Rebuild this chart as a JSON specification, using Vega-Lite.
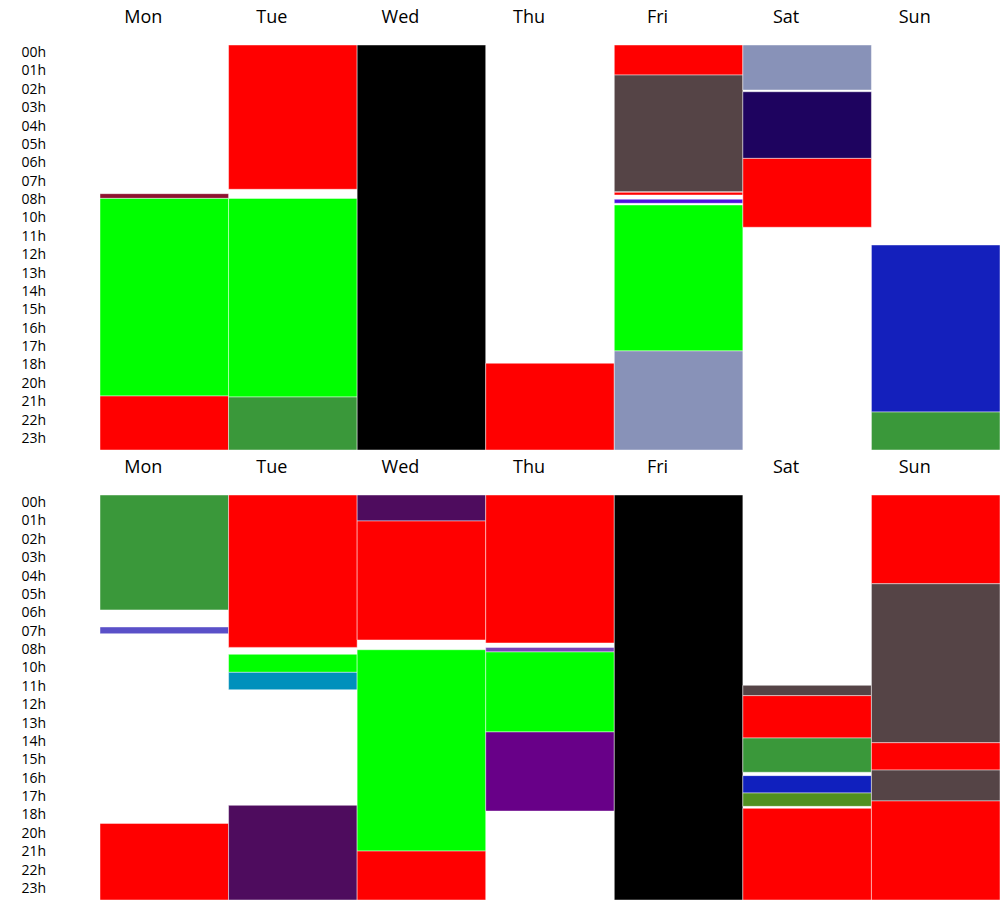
{
  "$schema": "https://vega.github.io/schema/vega-lite/v6.json",
  "background": "white",
  "padding": {"left": 21, "top": 8, "right": 0, "bottom": 0},
  "spacing": 7,
  "config": {
    "font": "Open Sans",
    "view": {"stroke": null},
    "axis": {"domain": false, "ticks": false, "tickSize": 0, "grid": false, "title": null, "labelColor": "#000000"}
  },
  "datasets": {
    "w1": [
      {"day": "Mon", "start": 8.81, "end": 9.09, "col": "#8e1230"},
      {"day": "Mon", "start": 9.09, "end": 20.8, "col": "#00ff00"},
      {"day": "Mon", "start": 20.8, "end": 24, "col": "#ff0000"},
      {"day": "Tue", "start": 0, "end": 8.55, "col": "#ff0000"},
      {"day": "Tue", "start": 9.09, "end": 20.86, "col": "#00ff00"},
      {"day": "Tue", "start": 20.86, "end": 24, "col": "#3a983a"},
      {"day": "Wed", "start": 0, "end": 24, "col": "#000000"},
      {"day": "Thu", "start": 18.86, "end": 24, "col": "#ff0000"},
      {"day": "Fri", "start": 0, "end": 1.78, "col": "#ff0000"},
      {"day": "Fri", "start": 1.78, "end": 8.69, "col": "#554446"},
      {"day": "Fri", "start": 8.73, "end": 8.89, "col": "#ff0000"},
      {"day": "Fri", "start": 9.14, "end": 9.38, "col": "#4c10e0"},
      {"day": "Fri", "start": 9.48, "end": 18.13, "col": "#00ff00"},
      {"day": "Fri", "start": 18.13, "end": 24, "col": "#8892b8"},
      {"day": "Sat", "start": 0, "end": 2.67, "col": "#8892b8"},
      {"day": "Sat", "start": 2.77, "end": 6.72, "col": "#1e035f"},
      {"day": "Sat", "start": 6.72, "end": 10.8, "col": "#ff0000"},
      {"day": "Sun", "start": 11.85, "end": 21.75, "col": "#1420bc"},
      {"day": "Sun", "start": 21.75, "end": 24, "col": "#3a983a"}
    ],
    "w2": [
      {"day": "Mon", "start": 0, "end": 6.81, "col": "#3a983a"},
      {"day": "Mon", "start": 7.82, "end": 8.22, "col": "#5a50c8"},
      {"day": "Mon", "start": 19.46, "end": 24, "col": "#ff0000"},
      {"day": "Tue", "start": 0, "end": 9.03, "col": "#ff0000"},
      {"day": "Tue", "start": 9.44, "end": 10.51, "col": "#00ff00"},
      {"day": "Tue", "start": 10.51, "end": 11.54, "col": "#0090bc"},
      {"day": "Tue", "start": 18.39, "end": 24, "col": "#4e0c5e"},
      {"day": "Wed", "start": 0, "end": 1.54, "col": "#4e0c5e"},
      {"day": "Wed", "start": 1.54, "end": 8.59, "col": "#ff0000"},
      {"day": "Wed", "start": 9.17, "end": 21.1, "col": "#00ff00"},
      {"day": "Wed", "start": 21.1, "end": 24, "col": "#ff0000"},
      {"day": "Thu", "start": 0, "end": 8.77, "col": "#ff0000"},
      {"day": "Thu", "start": 9.03, "end": 9.3, "col": "#7a44b8"},
      {"day": "Thu", "start": 9.3, "end": 14.04, "col": "#00ff00"},
      {"day": "Thu", "start": 14.04, "end": 18.73, "col": "#680088"},
      {"day": "Fri", "start": 0, "end": 24, "col": "#000000"},
      {"day": "Sat", "start": 11.28, "end": 11.89, "col": "#554446"},
      {"day": "Sat", "start": 11.89, "end": 14.4, "col": "#ff0000"},
      {"day": "Sat", "start": 14.4, "end": 16.43, "col": "#3a983a"},
      {"day": "Sat", "start": 16.63, "end": 17.66, "col": "#1020be"},
      {"day": "Sat", "start": 17.66, "end": 18.45, "col": "#509020"},
      {"day": "Sat", "start": 18.57, "end": 24, "col": "#ff0000"},
      {"day": "Sun", "start": 0, "end": 5.26, "col": "#ff0000"},
      {"day": "Sun", "start": 5.26, "end": 14.68, "col": "#554446"},
      {"day": "Sun", "start": 14.68, "end": 16.3, "col": "#ff0000"},
      {"day": "Sun", "start": 16.3, "end": 18.13, "col": "#554446"},
      {"day": "Sun", "start": 18.13, "end": 24, "col": "#ff0000"}
    ]
  },
  "vconcat": [
    {
      "width": 900,
      "height": 405,
      "data": {"name": "w1"},
      "mark": {"type": "bar", "stroke": "#ffffff", "strokeWidth": 1, "strokeOpacity": 0.45},
      "encoding": {
        "x": {"field": "day", "type": "nominal", "sort": ["Mon", "Tue", "Wed", "Thu", "Fri", "Sat", "Sun"],
          "scale": {"domain": ["Mon", "Tue", "Wed", "Thu", "Fri", "Sat", "Sun"], "paddingInner": 0, "paddingOuter": 0},
          "axis": {"orient": "top", "labelAngle": 0, "labelFontSize": 18, "labelBaseline": "alphabetic", "labelPadding": 23, "labelOffset": -21}},
        "y": {"field": "start", "type": "quantitative", "scale": {"domain": [0, 24], "reverse": true, "nice": false},
          "axis": {"values": [0.444, 1.533, 2.622, 3.712, 4.801, 5.89, 6.979, 8.068, 9.158, 10.247, 11.336, 12.425, 13.514, 14.604, 15.693, 16.782, 17.871, 18.96, 20.05, 21.139, 22.228, 23.317],
            "labelExpr": "['00h','01h','02h','03h','04h','05h','06h','07h','08h','10h','11h','12h','13h','14h','15h','16h','17h','18h','20h','21h','22h','23h'][round((datum.value - 0.444) / 1.0892)]",
            "labelAlign": "left", "labelBaseline": "middle", "labelPadding": 79, "labelFontSize": 14, "labelOverlap": false}},
        "y2": {"field": "end"},
        "color": {"field": "col", "type": "nominal", "scale": null}
      }
    },
    {
      "width": 900,
      "height": 405,
      "data": {"name": "w2"},
      "mark": {"type": "bar", "stroke": "#ffffff", "strokeWidth": 1, "strokeOpacity": 0.45},
      "encoding": {
        "x": {"field": "day", "type": "nominal", "sort": ["Mon", "Tue", "Wed", "Thu", "Fri", "Sat", "Sun"],
          "scale": {"domain": ["Mon", "Tue", "Wed", "Thu", "Fri", "Sat", "Sun"], "paddingInner": 0, "paddingOuter": 0},
          "axis": {"orient": "top", "labelAngle": 0, "labelFontSize": 18, "labelBaseline": "alphabetic", "labelPadding": 23, "labelOffset": -21}},
        "y": {"field": "start", "type": "quantitative", "scale": {"domain": [0, 24], "reverse": true, "nice": false},
          "axis": {"values": [0.444, 1.533, 2.622, 3.712, 4.801, 5.89, 6.979, 8.068, 9.158, 10.247, 11.336, 12.425, 13.514, 14.604, 15.693, 16.782, 17.871, 18.96, 20.05, 21.139, 22.228, 23.317],
            "labelExpr": "['00h','01h','02h','03h','04h','05h','06h','07h','08h','10h','11h','12h','13h','14h','15h','16h','17h','18h','20h','21h','22h','23h'][round((datum.value - 0.444) / 1.0892)]",
            "labelAlign": "left", "labelBaseline": "middle", "labelPadding": 79, "labelFontSize": 14, "labelOverlap": false}},
        "y2": {"field": "end"},
        "color": {"field": "col", "type": "nominal", "scale": null}
      }
    }
  ]
}
